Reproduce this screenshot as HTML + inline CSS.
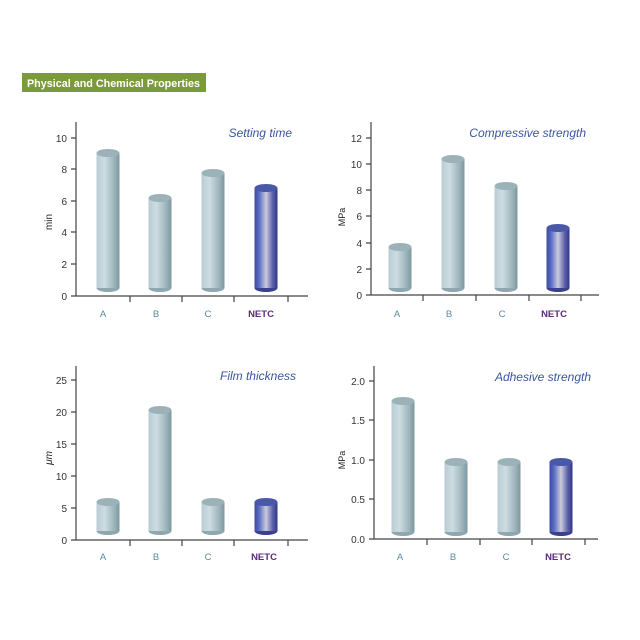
<!DOCTYPE html>
<html><head><meta charset="utf-8"><style>
body{margin:0;background:#fff;}
svg{display:block;font-family:"Liberation Sans",sans-serif;}
</style></head><body>
<svg width="640" height="640" viewBox="0 0 640 640" xmlns="http://www.w3.org/2000/svg">
<defs>
<linearGradient id="g" x1="0" x2="1" y1="0" y2="0">
<stop offset="0" stop-color="#b9ccd3"/><stop offset="0.35" stop-color="#cddde2"/><stop offset="0.75" stop-color="#9fb6bd"/><stop offset="1" stop-color="#7d979f"/></linearGradient>
<linearGradient id="n" x1="0" x2="1" y1="0" y2="0">
<stop offset="0" stop-color="#3a4aa8"/><stop offset="0.2" stop-color="#5a6cc0"/><stop offset="0.5" stop-color="#c9cbdc"/><stop offset="0.8" stop-color="#5a5fa8"/><stop offset="1" stop-color="#2f3688"/></linearGradient>
</defs>
<rect x="22" y="73" width="184" height="19" fill="#7b9a3c"/>
<text x="27" y="87" font-size="11" font-weight="bold" fill="#fff" textLength="173" lengthAdjust="spacingAndGlyphs">Physical and Chemical Properties</text>

<g stroke="#444" stroke-width="1.2" fill="none">
<path d="M76 122V296H308M76 138h-5M76 169h-5M76 201h-5M76 232h-5M76 264h-5M76 296h-5M130 296v6M182 296v6M234 296v6M288 296v6"/>
<path d="M371 122V295H599M371 138h-5M371 164h-5M371 190h-5M371 216h-5M371 243h-5M371 269h-5M371 295h-5M423 295v6M476 295v6M529 295v6M581 295v6"/>
<path d="M76 366V540H308M76 380h-5M76 412h-5M76 444h-5M76 476h-5M76 508h-5M76 540h-5M130 540v6M182 540v6M234 540v6M288 540v6"/>
<path d="M374 366V539H598M374 381h-5M374 420h-5M374 460h-5M374 499h-5M374 539h-5M427 539v6M480 539v6M532 539v6M585 539v6"/>
</g>

<g font-size="10" fill="#333" text-anchor="end">
<text x="67" y="142">10</text><text x="67" y="173">8</text><text x="67" y="205">6</text><text x="67" y="236">4</text><text x="67" y="268">2</text><text x="67" y="300">0</text>
<text x="362" y="142">12</text><text x="362" y="168">10</text><text x="362" y="194">8</text><text x="362" y="220">6</text><text x="362" y="247">4</text><text x="362" y="273">2</text><text x="362" y="299">0</text>
<text x="67" y="384">25</text><text x="67" y="416">20</text><text x="67" y="448">15</text><text x="67" y="480">10</text><text x="67" y="512">5</text><text x="67" y="544">0</text>
<text x="365" y="385">2.0</text><text x="365" y="424">1.5</text><text x="365" y="464">1.0</text><text x="365" y="503">0.5</text><text x="365" y="543">0.0</text>
</g>
<g font-size="10" fill="#222">
<text transform="translate(52,222) rotate(-90)" text-anchor="middle">min</text>
<text transform="translate(345,217) rotate(-90)" text-anchor="middle" font-size="9">MPa</text>
<text transform="translate(52,458) rotate(-90)" text-anchor="middle" font-style="italic">μm</text>
<text transform="translate(345,460) rotate(-90)" text-anchor="middle" font-size="9">MPa</text>
</g>
<g font-size="12" font-style="italic" fill="#3a56a0" text-anchor="end">
<text x="292" y="137">Setting time</text>
<text x="586" y="137">Compressive strength</text>
<text x="296" y="380">Film thickness</text>
<text x="591" y="381">Adhesive strength</text>
</g>
<g font-size="9.5" text-anchor="middle" fill="#5a8aa0">
<text x="103" y="317">A</text><text x="156" y="317">B</text><text x="208" y="317">C</text>
<text x="397" y="317">A</text><text x="449" y="317">B</text><text x="502" y="317">C</text>
<text x="103" y="560">A</text><text x="156" y="560">B</text><text x="208" y="560">C</text>
<text x="400" y="560">A</text><text x="453" y="560">B</text><text x="506" y="560">C</text>
</g>
<g font-size="9.5" font-weight="bold" text-anchor="middle" fill="#5a2a7a">
<text x="261" y="317">NETC</text><text x="554" y="317">NETC</text><text x="264" y="560">NETC</text><text x="558" y="560">NETC</text>
</g>

<g>
<ellipse cx="108" cy="288" rx="11.5" ry="4" fill="#8fa8af"/><rect x="96.5" y="153" width="23" height="135" fill="url(#g)"/><ellipse cx="108" cy="153" rx="11.5" ry="4" fill="#9cb2b9"/>
<ellipse cx="160" cy="288" rx="11.5" ry="4" fill="#8fa8af"/><rect x="148.5" y="198" width="23" height="90" fill="url(#g)"/><ellipse cx="160" cy="198" rx="11.5" ry="4" fill="#9cb2b9"/>
<ellipse cx="213" cy="288" rx="11.5" ry="4" fill="#8fa8af"/><rect x="201.5" y="173" width="23" height="115" fill="url(#g)"/><ellipse cx="213" cy="173" rx="11.5" ry="4" fill="#9cb2b9"/>
<ellipse cx="266" cy="288" rx="11.5" ry="4" fill="#3a428e"/><rect x="254.5" y="188" width="23" height="100" fill="url(#n)"/><ellipse cx="266" cy="188" rx="11.5" ry="4" fill="#4a58a8"/>
</g>
<g>
<ellipse cx="400" cy="288" rx="11.5" ry="4" fill="#8fa8af"/><rect x="388.5" y="247" width="23" height="41" fill="url(#g)"/><ellipse cx="400" cy="247" rx="11.5" ry="4" fill="#9cb2b9"/>
<ellipse cx="453" cy="288" rx="11.5" ry="4" fill="#8fa8af"/><rect x="441.5" y="159" width="23" height="129" fill="url(#g)"/><ellipse cx="453" cy="159" rx="11.5" ry="4" fill="#9cb2b9"/>
<ellipse cx="506" cy="288" rx="11.5" ry="4" fill="#8fa8af"/><rect x="494.5" y="186" width="23" height="102" fill="url(#g)"/><ellipse cx="506" cy="186" rx="11.5" ry="4" fill="#9cb2b9"/>
<ellipse cx="558" cy="288" rx="11.5" ry="4" fill="#3a428e"/><rect x="546.5" y="228" width="23" height="60" fill="url(#n)"/><ellipse cx="558" cy="228" rx="11.5" ry="4" fill="#4a58a8"/>
</g>
<g>
<ellipse cx="108" cy="531" rx="11.5" ry="4" fill="#8fa8af"/><rect x="96.5" y="502" width="23" height="29" fill="url(#g)"/><ellipse cx="108" cy="502" rx="11.5" ry="4" fill="#9cb2b9"/>
<ellipse cx="160" cy="531" rx="11.5" ry="4" fill="#8fa8af"/><rect x="148.5" y="410" width="23" height="121" fill="url(#g)"/><ellipse cx="160" cy="410" rx="11.5" ry="4" fill="#9cb2b9"/>
<ellipse cx="213" cy="531" rx="11.5" ry="4" fill="#8fa8af"/><rect x="201.5" y="502" width="23" height="29" fill="url(#g)"/><ellipse cx="213" cy="502" rx="11.5" ry="4" fill="#9cb2b9"/>
<ellipse cx="266" cy="531" rx="11.5" ry="4" fill="#3a428e"/><rect x="254.5" y="502" width="23" height="29" fill="url(#n)"/><ellipse cx="266" cy="502" rx="11.5" ry="4" fill="#4a58a8"/>
</g>
<g>
<ellipse cx="403" cy="532" rx="11.5" ry="4" fill="#8fa8af"/><rect x="391.5" y="401" width="23" height="131" fill="url(#g)"/><ellipse cx="403" cy="401" rx="11.5" ry="4" fill="#9cb2b9"/>
<ellipse cx="456" cy="532" rx="11.5" ry="4" fill="#8fa8af"/><rect x="444.5" y="462" width="23" height="70" fill="url(#g)"/><ellipse cx="456" cy="462" rx="11.5" ry="4" fill="#9cb2b9"/>
<ellipse cx="509" cy="532" rx="11.5" ry="4" fill="#8fa8af"/><rect x="497.5" y="462" width="23" height="70" fill="url(#g)"/><ellipse cx="509" cy="462" rx="11.5" ry="4" fill="#9cb2b9"/>
<ellipse cx="561" cy="532" rx="11.5" ry="4" fill="#3a428e"/><rect x="549.5" y="462" width="23" height="70" fill="url(#n)"/><ellipse cx="561" cy="462" rx="11.5" ry="4" fill="#4a58a8"/>
</g>
</svg>
</body></html>
